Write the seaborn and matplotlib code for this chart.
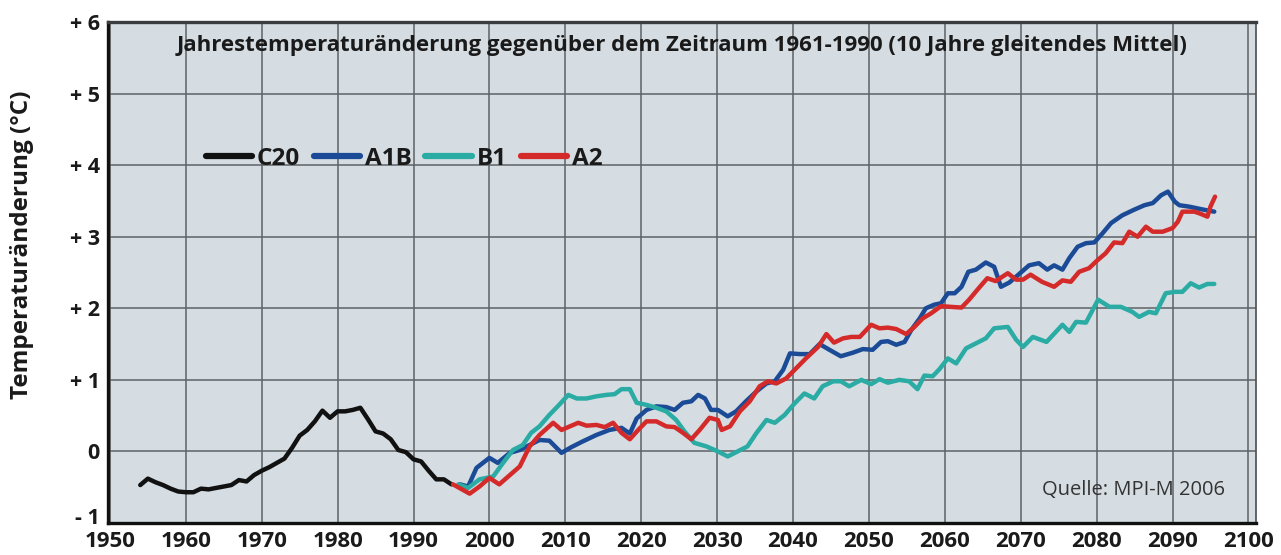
import numpy as np
import pandas as pd
import matplotlib
matplotlib.use('Agg')
import matplotlib.pyplot as plt
import matplotlib.transforms as mtransforms
import seaborn as sns

# Werte (Jahr, Temperaturaenderung in Grad C)
c20_years = [1954, 1955, 1956, 1957, 1958, 1959, 1960, 1961, 1962, 1963, 1964, 1965, 1966, 1967,
             1968, 1969, 1970, 1971, 1972, 1973, 1974, 1975, 1976, 1977, 1978, 1979, 1980, 1981,
             1982, 1983, 1984, 1985, 1986, 1987, 1988, 1989, 1990, 1991, 1992, 1993, 1994, 1995]
c20_values = [-0.47, -0.38, -0.43, -0.47, -0.52, -0.56, -0.57, -0.57, -0.52, -0.53, -0.51, -0.49,
              -0.47, -0.40, -0.42, -0.33, -0.27, -0.22, -0.16, -0.10, 0.05, 0.22, 0.30, 0.42, 0.57,
              0.47, 0.56, 0.56, 0.58, 0.61, 0.45, 0.28, 0.25, 0.17, 0.02, -0.01, -0.11, -0.14,
              -0.27, -0.39, -0.39, -0.46]

a1b_years = [1996.1, 1997.2, 1998.3, 2000.0, 2001.1, 2002.7, 2004.0, 2005.3, 2006.6, 2007.9, 2009.5,
             2010.8, 2012.3, 2014.1, 2015.8, 2017.4, 2018.5, 2019.4, 2020.7, 2022.0, 2023.3, 2024.4,
             2025.5, 2026.6, 2027.5, 2028.4, 2029.2, 2030.1, 2031.4, 2032.5, 2033.8, 2035.2, 2036.5,
             2037.6, 2038.7, 2039.6, 2040.9, 2042.2, 2043.5, 2044.8, 2046.3, 2047.9, 2049.2, 2050.5,
             2051.6, 2052.5, 2053.6, 2054.7, 2055.6, 2056.7, 2057.5, 2058.6, 2059.5, 2060.4, 2061.3,
             2062.2, 2063.1, 2064.1, 2065.4, 2066.5, 2067.4, 2068.5, 2069.7, 2071.1, 2072.4, 2073.5,
             2074.4, 2075.5, 2076.4, 2077.5, 2078.6, 2079.7, 2080.8, 2081.9, 2083.4, 2085.0, 2086.3,
             2087.4, 2088.5, 2089.4, 2090.3, 2090.9, 2092.2, 2094.0, 2095.5]
a1b_values = [-0.46, -0.49, -0.23, -0.09, -0.16, -0.02, 0.02, 0.09, 0.16, 0.15, -0.02,
              0.06, 0.14, 0.23, 0.30, 0.33, 0.25, 0.46, 0.58, 0.63, 0.62, 0.58,
              0.68, 0.70, 0.79, 0.74, 0.58, 0.58, 0.49, 0.56, 0.70, 0.84, 0.95,
              0.98, 1.14, 1.37, 1.36, 1.36, 1.50, 1.42, 1.33, 1.38, 1.43, 1.42,
              1.53, 1.54, 1.49, 1.53, 1.70, 1.86, 2.00, 2.05, 2.07, 2.21, 2.21,
              2.30, 2.51, 2.54, 2.64, 2.58, 2.30, 2.36, 2.47, 2.60, 2.63, 2.54,
              2.60, 2.54, 2.70, 2.86, 2.91, 2.92, 3.05, 3.19, 3.30, 3.38, 3.44,
              3.47, 3.58, 3.63, 3.49, 3.44, 3.42, 3.38, 3.35]

b1_years = [1995.9, 1997.2, 1998.7, 2000.5, 2001.8, 2003.1, 2004.4, 2005.5, 2006.6, 2007.9, 2009.0,
            2010.4, 2011.5, 2012.8, 2014.1, 2015.4, 2016.5, 2017.4, 2018.5, 2019.4, 2020.7, 2022.0,
            2023.3, 2024.6, 2025.7, 2027.0, 2028.6, 2030.1, 2031.4, 2032.7, 2034.0, 2035.2, 2036.5,
            2037.6, 2038.9, 2040.2, 2041.5, 2042.8, 2043.9, 2045.3, 2046.3, 2047.4, 2049.0, 2050.3,
            2051.4, 2052.5, 2054.0, 2055.3, 2056.4, 2057.3, 2058.4, 2059.3, 2060.4, 2061.5, 2062.8,
            2064.1, 2065.4, 2066.5, 2068.3, 2069.4, 2070.3, 2071.6, 2073.4, 2075.5, 2076.4, 2077.3,
            2078.6, 2080.2, 2081.7, 2083.2, 2084.7, 2085.6, 2086.9, 2087.8, 2089.1, 2090.3, 2091.3,
            2092.4, 2093.5, 2094.6, 2095.5]
b1_values = [-0.46, -0.51, -0.39, -0.35, -0.16, 0.02, 0.09, 0.26, 0.35, 0.51, 0.63,
             0.79, 0.74, 0.74, 0.77, 0.79, 0.80, 0.87, 0.87, 0.68, 0.65, 0.61,
             0.56, 0.44, 0.28, 0.12, 0.07, 0.00, -0.07, 0.00, 0.07, 0.26, 0.44,
             0.40, 0.51, 0.67, 0.81, 0.74, 0.91, 0.98, 0.98, 0.91, 1.00, 0.94,
             1.01, 0.96, 1.00, 0.98, 0.87, 1.06, 1.05, 1.15, 1.30, 1.23, 1.44,
             1.51, 1.58, 1.72, 1.74, 1.56, 1.46, 1.60, 1.53, 1.77, 1.67, 1.81,
             1.80, 2.12, 2.02, 2.02, 1.95, 1.88, 1.95, 1.93, 2.21, 2.23, 2.23,
             2.35, 2.29, 2.34, 2.34]

a2_years = [1995.2, 1997.4, 1998.7, 2000.0, 2001.3, 2002.7, 2004.0, 2005.3, 2006.6, 2008.4, 2009.5,
            2010.6, 2011.7, 2012.8, 2014.1, 2015.2, 2016.3, 2017.4, 2018.5, 2019.6, 2020.7, 2022.0,
            2023.3, 2024.4, 2025.5, 2026.6, 2027.7, 2029.0, 2030.1, 2030.6, 2031.7, 2033.0, 2034.3,
            2035.6, 2036.7, 2037.8, 2039.1, 2040.4, 2041.7, 2043.3, 2044.4, 2045.4, 2046.6, 2047.7,
            2048.8, 2050.3, 2051.4, 2052.5, 2053.6, 2054.9, 2056.0, 2057.1, 2058.2, 2059.5, 2060.8,
            2062.2, 2063.2, 2064.3, 2065.6, 2066.7, 2068.3, 2069.4, 2070.3, 2071.3, 2072.8, 2074.4,
            2075.5, 2076.6, 2077.7, 2079.0, 2080.1, 2081.2, 2082.3, 2083.4, 2084.3, 2085.4, 2086.5,
            2087.4, 2088.7, 2090.0, 2090.7, 2091.3, 2092.9, 2093.7, 2094.6, 2095.0, 2095.6]
a2_values = [-0.46, -0.59, -0.49, -0.37, -0.46, -0.33, -0.21, 0.07, 0.23, 0.40, 0.30,
             0.35, 0.40, 0.36, 0.37, 0.34, 0.40, 0.26, 0.17, 0.30, 0.42, 0.42,
             0.35, 0.34, 0.26, 0.17, 0.30, 0.47, 0.44, 0.30, 0.35, 0.56, 0.70,
             0.91, 0.98, 0.95, 1.02, 1.16, 1.30, 1.46, 1.64, 1.52, 1.58, 1.60,
             1.60, 1.77, 1.72, 1.73, 1.71, 1.64, 1.74, 1.86, 1.93, 2.03, 2.02,
             2.01, 2.12, 2.26, 2.42, 2.38, 2.49, 2.40, 2.40, 2.47, 2.37, 2.30,
             2.39, 2.37, 2.51, 2.56, 2.67, 2.77, 2.92, 2.91, 3.07, 3.00, 3.14,
             3.07, 3.07, 3.12, 3.21, 3.35, 3.35, 3.32, 3.28, 3.42, 3.56]

scenarios = ['C20', 'A1B', 'B1', 'A2']
colors = ['#111111', '#1b4a97', '#2aaba3', '#d42a2a']
x_ticks = list(range(1950, 2101, 10))
y_ticks = [-1, 0, 1, 2, 3, 4, 5, 6]
y_tick_labels = ['- 1', '0', '+ 1', '+ 2', '+ 3', '+ 4', '+ 5', '+ 6']
title = 'Jahrestemperaturänderung gegenüber dem Zeitraum 1961-1990 (10 Jahre gleitendes Mittel)'
y_label = 'Temperaturänderung (°C)'
source = 'Quelle: MPI-M 2006'

frames = []
for name, yrs, vals in [('C20', c20_years, c20_values), ('A1B', a1b_years, a1b_values),
                        ('B1', b1_years, b1_values), ('A2', a2_years, a2_values)]:
    frames.append(pd.DataFrame({'Jahr': yrs, 'Wert': vals, 'Szenario': name}))
df = pd.concat(frames, ignore_index=True)

sns.set_style('white', {'axes.facecolor': '#d5dde2'})
plt.rcParams['font.family'] = ['Open Sans', 'DejaVu Sans']

fig = plt.figure(figsize=(12.81, 5.55), dpi=100)
ax = fig.add_axes([108 / 1281, 1 - 523 / 555, 1148 / 1281, 501 / 555])

sns.lineplot(data=df, x='Jahr', y='Wert', hue='Szenario', hue_order=scenarios,
             palette=dict(zip(scenarios, colors)), estimator=None, sort=False,
             linewidth=3.2, solid_joinstyle='round', solid_capstyle='round', ax=ax, zorder=3)

ax.set_xlim(1949.75, 2101)
ax.set_ylim(-1, 6)
ax.set_xticks(x_ticks)
ax.set_xticklabels([str(t) for t in x_ticks], fontsize=16, fontweight='bold', color='#1a1a1a')
ax.set_yticks(y_ticks)
ax.set_yticklabels(y_tick_labels, fontsize=15.5, fontweight='bold', color='#1a1a1a')
ax.set_xlabel('')
ax.set_ylabel('')

ax.set_axisbelow(True)
ax.grid(True, color='#5d6266', linewidth=1.1)
ax.tick_params(axis='x', direction='out', length=5, width=1.2, color='#6a6f73', pad=0.5)
ax.tick_params(axis='y', length=0, pad=6)

# the lowest label sits a little above its gridline in the original
lowest = ax.get_yticklabels()[0]
lowest.set_transform(lowest.get_transform() +
                     mtransforms.ScaledTranslation(0, 5 / 72, fig.dpi_scale_trans))

for side in ['left', 'bottom']:
    ax.spines[side].set_color('#111111')
    ax.spines[side].set_linewidth(2.4)
ax.spines['top'].set_color('#3a3d40')
ax.spines['top'].set_linewidth(2.4)
ax.spines['right'].set_color('#4a4e52')
ax.spines['right'].set_linewidth(1.2)

handles, labels = ax.get_legend_handles_labels()
leg = ax.legend(handles, labels, loc='center left', bbox_to_anchor=(0.085, 0.727), ncol=4,
                frameon=False, borderpad=0, borderaxespad=0, handlelength=1.9,
                handletextpad=0.22, columnspacing=0.55,
                prop={'weight': 'bold', 'size': 17.5})
for line in leg.get_lines():
    line.set_linewidth(4.5)
    line.set_solid_capstyle('round')
for txt in leg.get_texts():
    txt.set_color('#1a1a1a')

ax.text(0.5, 0.954, title, transform=ax.transAxes, ha='center', va='center',
        fontsize=16, fontweight='bold', color='#1a1a1a')
ax.text(0.973, 0.066, source, transform=ax.transAxes, ha='right', va='center',
        fontsize=14.5, color='#333333')
fig.text(22 / 1281, 1 - 245 / 555, y_label, rotation=90, ha='center', va='center',
         fontsize=17.5, fontweight='bold', color='#1a1a1a')

fig.savefig('out.png', dpi=100)
